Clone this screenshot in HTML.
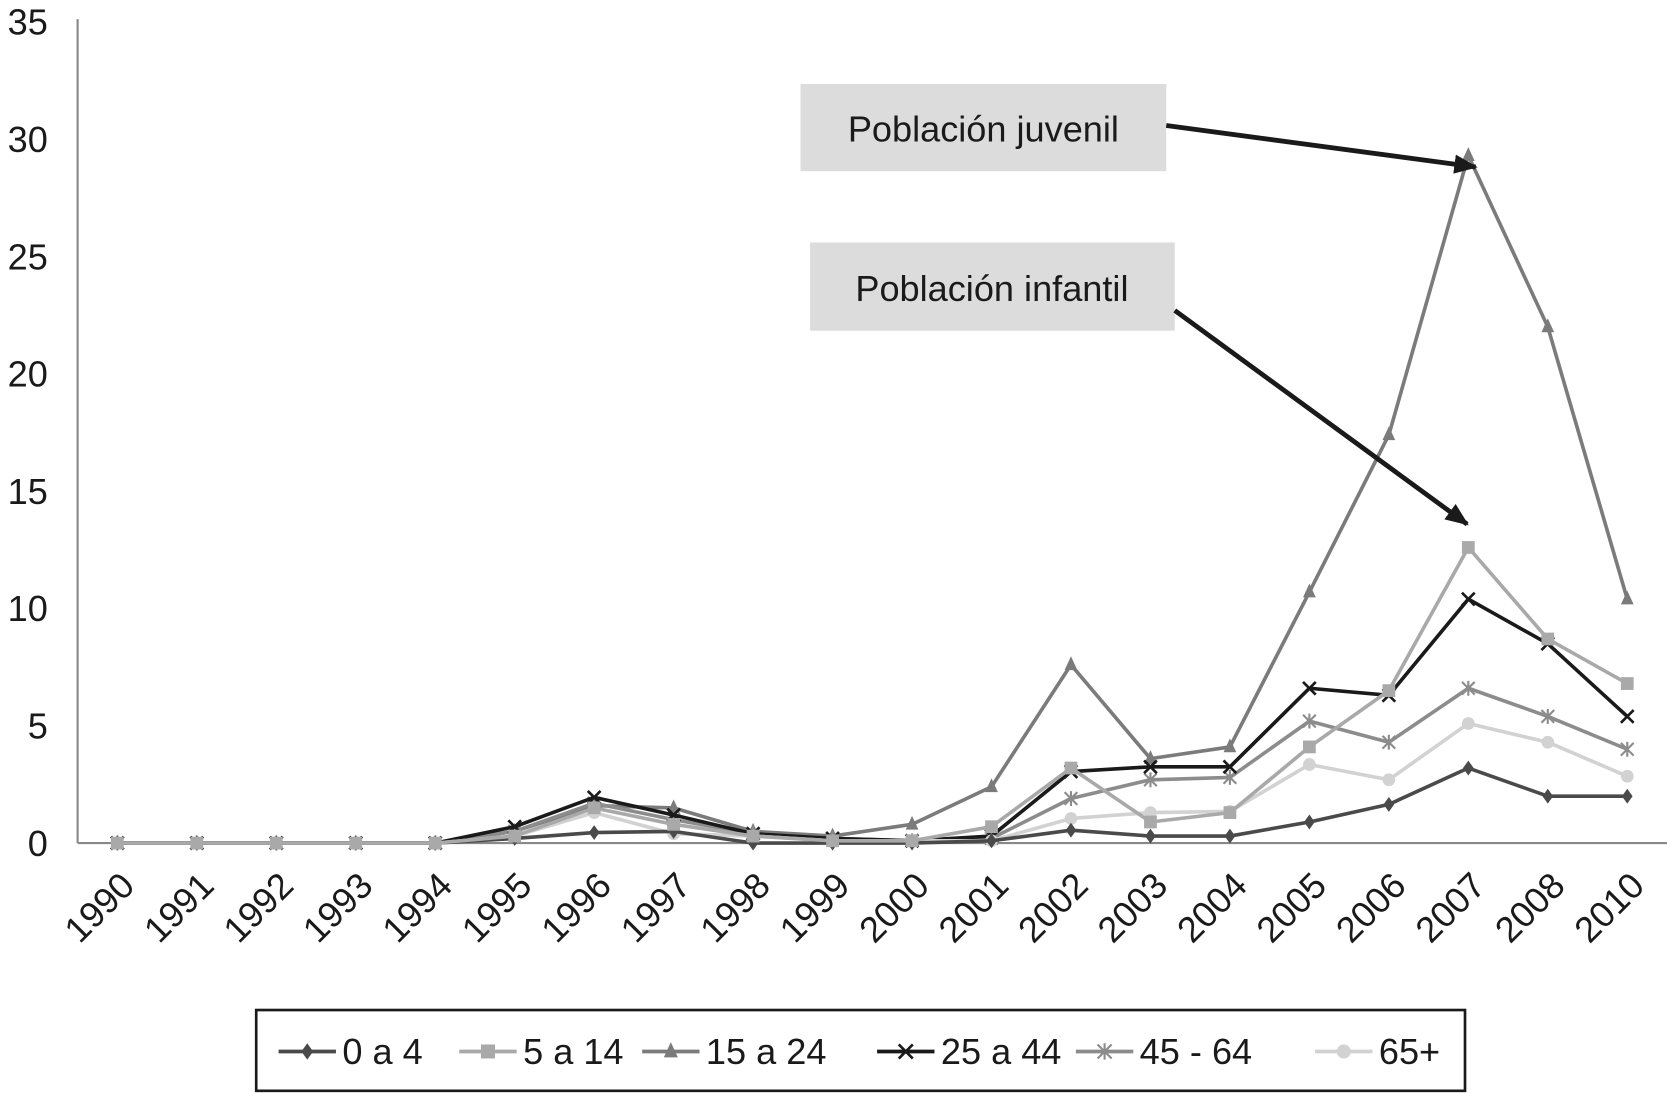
<!DOCTYPE html>
<html><head><meta charset="utf-8"><style>
html,body{margin:0;padding:0;background:#fff;}
svg{display:block;}
text{font-family:"Liberation Sans",sans-serif;fill:#1a1a1a;}
</style></head><body>
<svg id="chart" width="1667" height="1093" viewBox="0 0 1568 1028" xmlns="http://www.w3.org/2000/svg">
<defs>
<marker id="arr" markerWidth="22" markerHeight="18" refX="20" refY="9" orient="auto" markerUnits="userSpaceOnUse" viewBox="0 0 22 18"><path d="M0,0 L22,9 L0,18 z" fill="#1a1a1a"/></marker>
</defs>
<g id="axes"></g>
<g id="series"></g>
<g>
<rect x="753" y="79" width="344" height="82" fill="#dcdcdc"/>
<text x="925" y="133" font-size="34" text-anchor="middle">Población juvenil</text>
<line x1="1097" y1="118" x2="1388" y2="157" stroke="#1a1a1a" stroke-width="4.5" marker-end="url(#arr)"/>
</g>
<g>
<rect x="762" y="228" width="343" height="83" fill="#dcdcdc"/>
<text x="933" y="283" font-size="34" text-anchor="middle">Población infantil</text>
<line x1="1105" y1="292" x2="1380" y2="493" stroke="#1a1a1a" stroke-width="4.5" marker-end="url(#arr)"/>
</g>
<g id="legend">
<rect x="241" y="950" width="1137" height="76" fill="#fff" stroke="#1a1a1a" stroke-width="2.5"/>
</g>
</svg>
<script>
const categories=["1990","1991","1992","1993","1994","1995","1996","1997","1998","1999","2000","2001","2002","2003","2004","2005","2006","2007","2008","2010"];
const yTicks=[0,5,10,15,20,25,30,35];
const s0a4=[0,0,0,0,0,0.2,0.45,0.5,0,0,0,0.1,0.55,0.3,0.3,0.9,1.65,3.2,2.0,2.0];
const s5a14=[0,0,0,0,0,0.3,1.5,0.8,0.3,0.1,0.1,0.7,3.2,0.9,1.3,4.1,6.5,12.6,8.7,6.8];
const s15a24=[0,0,0,0,0,0.5,1.6,1.5,0.5,0.3,0.8,2.4,7.6,3.6,4.1,10.7,17.4,29.3,22.0,10.4];
const s25a44=[0,0,0,0,0,0.7,1.95,1.2,0.4,0.2,0.1,0.3,3.05,3.25,3.25,6.6,6.3,10.4,8.5,5.4];
const s45a64=[0,0,0,0,0,0.5,1.7,1.0,0.4,0.2,0.1,0.2,1.9,2.7,2.8,5.2,4.3,6.6,5.4,4.0];
const s65=[0,0,0,0,0,0.3,1.3,0.4,0.3,0.1,0.1,0.1,1.05,1.3,1.35,3.35,2.7,5.1,4.3,2.85];
const seriesNames=["0 a 4","5 a 14","15 a 24","25 a 44","45 - 64","65+"];

const NS="http://www.w3.org/2000/svg";
const x0=73,x1=1568,yBase=793,pxPerUnit=22.07;
const step=(x1-x0)/categories.length;
function xs(i){return x0+step*(i+0.5);}
function ys(v){return yBase-v*pxPerUnit;}
function mk(tag,attrs,parent){const e=document.createElementNS(NS,tag);for(const k in attrs)e.setAttribute(k,attrs[k]);parent.appendChild(e);return e;}

const axes=document.getElementById('axes');
let ya=mk('line',{x1:x0,y1:18,x2:x0,y2:yBase,stroke:'#888','stroke-width':2},axes);


let xa=mk('line',{x1:x0,y1:yBase,x2:x1,y2:yBase,stroke:'#888','stroke-width':2},axes);


yTicks.forEach(t=>{
  const tx=mk('text',{x:45,y:ys(t)+12,'font-size':34,'text-anchor':'end'},axes);
  tx.textContent=t;
  
  
});
categories.forEach((c,i)=>{
  const px=xs(i)+18,py=yBase+42;
  const tx=mk('text',{x:px,y:py,'font-size':34,'text-anchor':'end',transform:`rotate(-45 ${px} ${py})`},axes);
  tx.textContent=c;
  
  
});

const styles=[
 {data:s0a4,color:'#4a4a4a',m:'diamond'},
 {data:s5a14,color:'#a9a9a9',m:'square'},
 {data:s15a24,color:'#7b7b7b',m:'triangle'},
 {data:s25a44,color:'#1a1a1a',m:'x'},
 {data:s45a64,color:'#8c8c8c',m:'star'},
 {data:s65,color:'#d2d2d2',m:'circle'}
];
function marker(g,type,cx,cy,color,s){
  s=s||1;
  if(type==='diamond')mk('path',{d:`M${cx},${cy-7*s}L${cx+5*s},${cy}L${cx},${cy+7*s}L${cx-5*s},${cy}Z`,fill:color},g);
  else if(type==='square')mk('rect',{x:cx-6*s,y:cy-6*s,width:12*s,height:12*s,fill:color},g);
  else if(type==='triangle')mk('path',{d:`M${cx},${cy-8*s}L${cx+6*s},${cy+5*s}L${cx-6*s},${cy+5*s}Z`,fill:color},g);
  else if(type==='x'){mk('path',{d:`M${cx-6*s},${cy-6*s}L${cx+6*s},${cy+6*s}M${cx+6*s},${cy-6*s}L${cx-6*s},${cy+6*s}`,stroke:color,'stroke-width':2.5},g);}
  else if(type==='star'){mk('path',{d:`M${cx-6*s},${cy-6*s}L${cx+6*s},${cy+6*s}M${cx+6*s},${cy-6*s}L${cx-6*s},${cy+6*s}M${cx},${cy-7*s}L${cx},${cy+7*s}`,stroke:color,'stroke-width':2},g);}
  else mk('circle',{cx:cx,cy:cy,r:6*s,fill:color},g);
}
const sg=document.getElementById('series');
const order=[2,4,3,5,0,1];
order.forEach(k=>{
  const st=styles[k];
  const g=mk('g',{},sg);
  
  
  const pts=st.data.map((v,i)=>xs(i)+','+ys(v)).join(' ');
  mk('polyline',{points:pts,fill:'none',stroke:st.color,'stroke-width':3.4,'stroke-linejoin':'round'},g);
  st.data.forEach((v,i)=>marker(g,st.m,xs(i),ys(v),st.color));
});

const lg=document.getElementById('legend');
const lx=[262,432,604,825,1012,1237];
seriesNames.forEach((n,k)=>{
  const g=mk('g',{},lg);
  
  
  const st=styles[k];
  mk('line',{x1:lx[k],y1:989,x2:lx[k]+54,y2:989,stroke:st.color,'stroke-width':3.5},g);
  marker(g,st.m,lx[k]+27,989,st.color,1.1);
  const t=mk('text',{x:lx[k]+60,y:1001,'font-size':34},g);
  t.textContent=n;
});
</script>
</body></html>
